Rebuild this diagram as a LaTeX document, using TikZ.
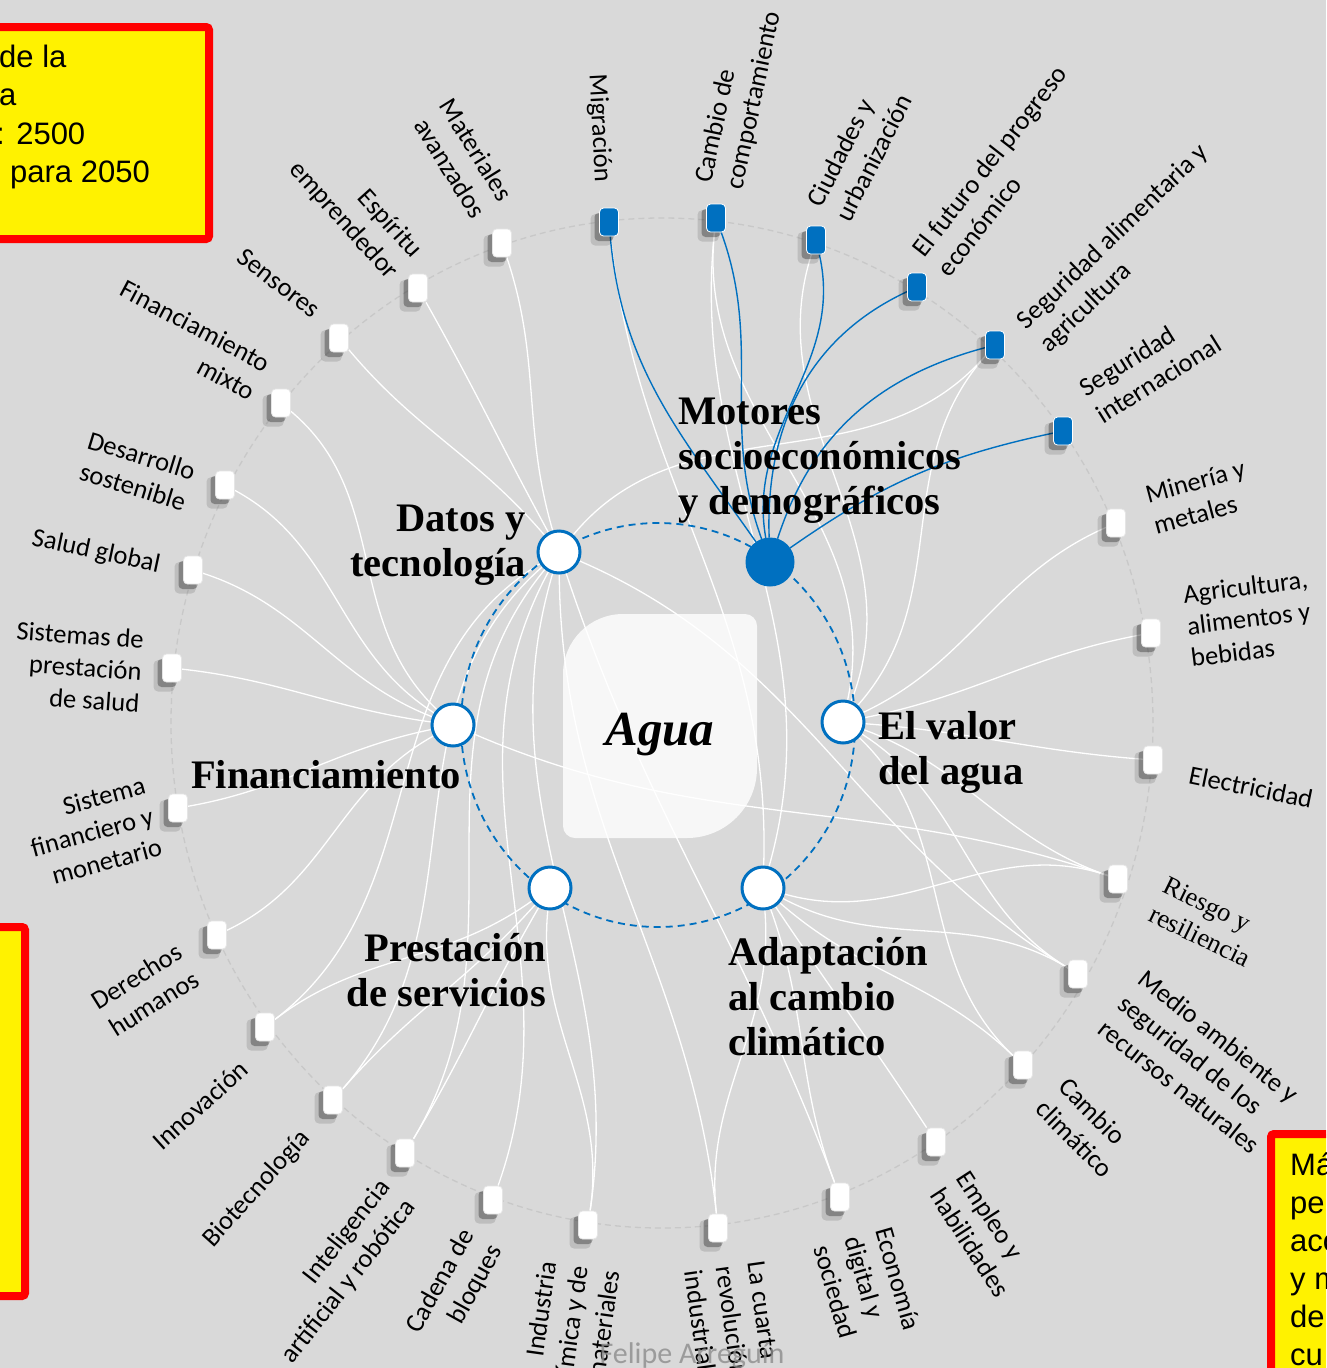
\documentclass[tikz,border=0pt]{standalone}
\usepackage{fontspec}
\setmainfont{Carlito}
\newfontfamily\serifb{Liberation Serif}
\newfontfamily\arialf{Liberation Sans}
\usetikzlibrary{calc,shadows}
\definecolor{bgc}{RGB}{217,217,217}
\definecolor{wb}{RGB}{0,112,192}
\definecolor{ringc}{RGB}{200,200,200}
\definecolor{boxc}{RGB}{247,247,247}
\definecolor{wmark}{RGB}{140,140,140}
\pgfdeclarelayer{back}
\pgfsetlayers{back,main}
\newcommand\lnk[3][wline]{%
  \begin{pgfonlayer}{back}
  \draw[#1] let \p1=(#2), \p2=(#3), \p3=(ictr), \p4=(ctr),
     \n1={atan2((\y2)-(\y1),(\x2)-(\x1))},
     \n3={atan2((\y1)-(\y3),(\x1)-(\x3))},
     \n4={atan2(sin(\n1)+0.45*sin(\n3),cos(\n1)+0.45*cos(\n3))},
     \n2={atan2((\y4)-(\y2),(\x4)-(\x2))} in (#2) to[out=\n4,in=\n2] (#3);
  \end{pgfonlayer}}
\newcommand\blnk[4]{%
  \begin{pgfonlayer}{back}
  \draw[bline] (#1) to[out=#3,in=#4] (#2);
  \end{pgfonlayer}}
\tikzset{
  wline/.style={draw=white, line width=1.3pt},
  bline/.style={draw=wb, line width=1.4pt},
  sq/.style={rectangle, rounded corners=4pt, minimum width=19pt, minimum height=28pt, inner sep=0pt,
     fill=white, draw=white!90!black, line width=0.8pt,
     general shadow={shadow xshift=-7pt, shadow yshift=-7pt, opacity=0.12, fill=black, shadow scale=1.12},
     drop shadow={shadow xshift=-5pt, shadow yshift=-5pt, opacity=0.3, fill=black}},
  bsq/.style={sq, fill=wb, draw=white},
  hub/.style={circle, minimum size=42pt, inner sep=0pt, fill=white, draw=wb, line width=3pt},
  hubf/.style={hub, fill=wb, minimum size=46pt},
  lab/.style={font=\fontsize{26.5}{32}\selectfont, inner sep=0pt},
  labs/.style={font=\serifb\fontsize{26.5}{32}\selectfont, inner sep=0pt},
  big/.style={font=\serifb\bfseries\fontsize{40.5}{45}\selectfont, inner sep=0pt},
  ybox/.style={fill=yellow, draw=red, line width=8pt, rounded corners=3pt},
  ytext/.style={font=\arialf\fontsize{31}{37}\selectfont, inner sep=0pt, anchor=base west}
}
\begin{document}
\begin{tikzpicture}[x=1pt,y=1pt]
\useasboundingbox (0,0) rectangle (1326,-1368);
\clip (0,0) rectangle (1326,-1368);
\coordinate (ctr) at (662,-723);
\coordinate (ictr) at (658,-725);
\begin{pgfonlayer}{back}
\fill[bgc] (0,0) rectangle (1326,-1368);
\draw[ringc, line width=1.3pt, dash pattern=on 6pt off 4pt] (ctr) ellipse [x radius=491, y radius=505];
\fill[boxc] (563,-674) arc[start angle=180,end angle=90,radius=60] -- (745,-614)
  arc[start angle=90,end angle=0,radius=12] -- (757,-768)
  arc[start angle=0,end angle=-90,radius=70] -- (575,-838)
  arc[start angle=270,end angle=180,radius=12] -- cycle;
\end{pgfonlayer}
% squares
\node[sq] (s1) at (502,-243) {};
\node[sq] (s2) at (418,-288) {};
\node[sq] (s3) at (339,-338) {};
\node[sq] (s4) at (281,-403) {};
\node[sq] (s5) at (225,-485) {};
\node[sq] (s6) at (193,-570) {};
\node[sq] (s7) at (172,-668) {};
\node[sq] (s8) at (178,-808) {};
\node[sq] (s9) at (217,-935) {};
\node[sq] (s10) at (265,-1027) {};
\node[sq] (s11) at (333,-1100) {};
\node[sq] (s12) at (405,-1153) {};
\node[sq] (s13) at (493,-1200) {};
\node[sq] (s14) at (588,-1225) {};
\node[sq] (s15) at (718,-1228) {};
\node[sq] (s16) at (840,-1197) {};
\node[sq] (s17) at (936,-1142) {};
\node[sq] (s18) at (1023,-1065) {};
\node[sq] (s19) at (1078,-974) {};
\node[sq] (s20) at (1118,-879) {};
\node[sq] (s21) at (1153,-760) {};
\node[sq] (s22) at (1151,-633) {};
\node[sq] (s23) at (1116,-523) {};
\node[bsq] (s24) at (1063,-431) {};
\node[bsq] (s25) at (995,-345) {};
\node[bsq] (s26) at (917,-287) {};
\node[bsq] (s27) at (816,-240) {};
\node[bsq] (s28) at (716,-218) {};
\node[bsq] (s29) at (609,-222) {};
% hubs
\node[hub] (dat) at (559,-552) {};
\node[hubf] (mot) at (770,-562) {};
\node[hub] (val) at (843,-722) {};
\node[hub] (ada) at (763,-888) {};
\node[hub] (pre) at (550,-888) {};
\node[hub] (fin) at (453,-725) {};
% links
\lnk{dat}{s1}\lnk{dat}{s2}\lnk{dat}{s3}\lnk{dat}{s10}\lnk{dat}{s11}\lnk{dat}{s12}
\lnk{dat}{s13}\lnk{dat}{s14}\lnk{dat}{s15}\lnk{dat}{s16}\lnk{dat}{s19}\lnk{dat}{s25}
\lnk{fin}{s4}\lnk{fin}{s5}\lnk{fin}{s6}\lnk{fin}{s7}\lnk{fin}{s8}\lnk{fin}{s9}\lnk{fin}{s20}
\lnk{pre}{s10}\lnk{pre}{s11}\lnk{pre}{s12}\lnk{pre}{s14}
\lnk{ada}{s29}\lnk{ada}{s28}\lnk{ada}{s15}\lnk{ada}{s16}\lnk{ada}{s17}\lnk{ada}{s18}\lnk{ada}{s19}\lnk{ada}{s20}
\lnk{val}{s18}\lnk{val}{s19}\lnk{val}{s20}\lnk{val}{s21}\lnk{val}{s22}\lnk{val}{s23}\lnk{val}{s25}\lnk{val}{s27}\lnk{val}{s28}
\blnk{mot}{s29}{125}{-85}
\blnk{mot}{s28}{110}{-70}
\blnk{mot}{s27}{100}{-77}
\blnk{mot}{s26}{92}{205}
\blnk{mot}{s25}{72}{195}
\blnk{mot}{s24}{35}{192}
\begin{pgfonlayer}{back}
\draw[wb, line width=1.8pt, dash pattern=on 7pt off 5pt] (ictr) ellipse [x radius=197, y radius=202];
\end{pgfonlayer}
% labels
\node[lab, align=right, rotate=-58] (l1) at (463,-158) {Materiales\\avanzados};
\node[lab, align=right, rotate=-48] (l2) at (355,-210) {Espíritu\\emprendedor};
\node[lab, rotate=-38] (l3) at (279,-283) {Sensores};
\node[lab, align=right, rotate=-28] (l4) at (188,-340) {Financiamiento\\mixto};
\node[lab, align=right, rotate=-17] (l5) at (137,-471) {Desarrollo\\sostenible};
\node[lab, rotate=-12] (l6) at (96,-552) {Salud global};
\node[lab, align=right, rotate=-4] (l7) at (78,-667) {Sistemas de\\prestación\\de salud};
\node[lab, align=right, rotate=15] (l8) at (92,-832) {Sistema\\financiero y\\monetario};
\node[lab, align=right, rotate=32] (l9) at (145,-990) {Derechos\\humanos};
\node[lab, rotate=42] (l10) at (200,-1105) {Innovación};
\node[lab, rotate=48] (l11) at (257,-1189) {Biotecnología};
\node[lab, align=right, rotate=52, anchor=east] (l12) at (398,-1193) {Inteligencia\\artificial y robótica};
\node[lab, align=right, rotate=61] (l13) at (455,-1289) {Cadena de\\bloques};
\node[lab, align=right, rotate=82, anchor=east] (l14) at (579,-1266) {Industria\\química y de\\materiales};
\node[lab, align=left, rotate=-82, anchor=west] (l15) at (724,-1266) {La cuarta\\revolución\\industrial};
\node[lab, align=left, rotate=-74, anchor=west] (l16) at (853,-1237) {Economía\\digital y\\sociedad};
\node[lab, align=left, rotate=-57, anchor=west] (l17) at (950,-1182) {Empleo y\\habilidades};
\node[lab, align=left, rotate=-45, anchor=west] (l18) at (1052,-1093) {Cambio\\climático};
\node[lab, align=left, rotate=-38.5, anchor=west] (l19) at (1122,-1000) {Medio ambiente y\\seguridad de los\\recursos naturales};
\node[labs, align=left, rotate=-26, anchor=west] (l20) at (1158,-898) {Riesgo y\\resiliencia};
\node[lab, rotate=-11.5] (l21) at (1251,-787) {Electricidad};
\node[lab, align=left, rotate=7, anchor=west] (l22) at (1187,-626) {Agricultura,\\alimentos y\\bebidas};
\node[lab, align=left, rotate=15, anchor=west] (l23) at (1150,-510) {Minería y\\metales};
\node[lab, align=left, rotate=32, anchor=west] (l24) at (1090,-403) {Seguridad\\internacional};
\node[lab, align=left, rotate=44, anchor=west] (l25) at (1033,-337) {Seguridad alimentaria y\\agricultura};
\node[lab, align=left, rotate=52, anchor=west] (l26) at (930,-263) {El futuro del progreso\\económico};
\node[lab, align=left, rotate=63, anchor=west] (l27) at (828,-212) {Ciudades y\\urbanización};
\node[lab, align=left, rotate=78, anchor=west] (l28) at (720,-186) {Cambio de\\comportamiento};
\node[lab, rotate=-87, anchor=east] (l29) at (602,-182) {Migración};
% big labels
\node[big, anchor=north west, align=left] (tmot) at (678,-398) {Motores\\socioeconómicos\\y demográficos};
\node[big, anchor=north east, align=right] (tdat) at (526,-505) {Datos y\\tecnología};
\node[big, anchor=base west] (tfin) at (191,-788) {Financiamiento};
\node[big, anchor=north west, align=left] (tval) at (878,-711) {El valor\\del agua};
\node[big, anchor=north east, align=right] (tpre) at (546,-933) {Prestación\\de servicios};
\node[big, anchor=north west, align=left] (tada) at (728,-937) {Adaptación\\al cambio\\climático};
\node[font=\serifb\bfseries\itshape\fontsize{49}{55}\selectfont, inner sep=0pt, anchor=base] (tagua) at (660,-745) {Agua};
% watermark
\node[font=\fontsize{30}{34}\selectfont, text=wmark, text opacity=0.8, inner sep=0pt, anchor=base] (wm) at (692,-1363) {Felipe Arreguín};
% yellow boxes
\draw[ybox] (-20,-27) rectangle (209,-239);
\node[ytext] (y1) at (-1,-67) {de la};
\node[ytext] (y2) at (-1,-105) {a};
\node[ytext] (y3) at (-4,-144) {: 2500};
\node[ytext] (y4) at (10,-182) {para 2050};
\draw[ybox] (-20,-927) rectangle (25,-1296);
\draw[ybox] (1271,-1134) rectangle (1400,-1420);
\node[ytext] (z1) at (1290,-1175) {Más};
\node[ytext] (z2) at (1290,-1213) {pe};
\node[ytext] (z3) at (1290,-1251) {acc};
\node[ytext] (z4) at (1290,-1289) {y m};
\node[ytext] (z5) at (1290,-1327) {de};
\node[ytext] (z6) at (1290,-1365) {cu};
\end{tikzpicture}
\end{document}
